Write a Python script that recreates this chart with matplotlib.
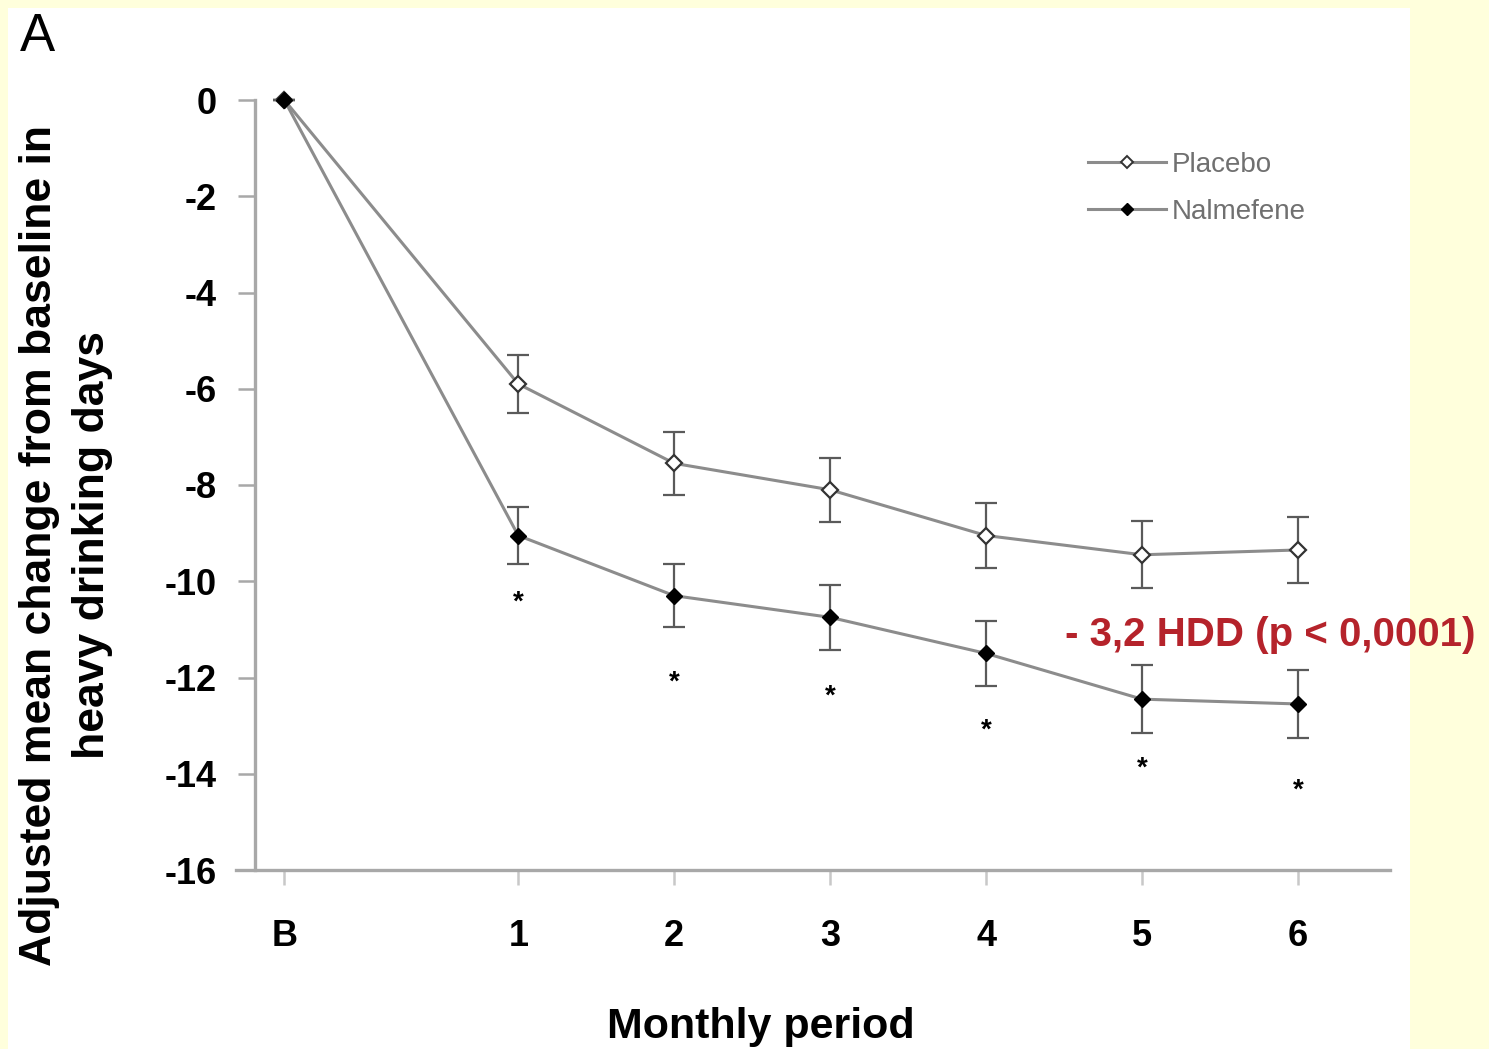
import numpy as np
import matplotlib
matplotlib.use('Agg')
import matplotlib.pyplot as plt
from matplotlib.patches import Rectangle
from matplotlib.lines import Line2D

plt.rcParams['font.family'] = ['Liberation Sans', 'DejaVu Sans']

# data
periods = ['B', '1', '2', '3', '4', '5', '6']
placebo = [0, -5.9, -7.55, -8.1, -9.05, -9.45, -9.35]
placebo_err = [0, 0.6, 0.65, 0.66, 0.67, 0.7, 0.68]
nalmefene = [0, -9.05, -10.3, -10.75, -11.5, -12.45, -12.55]
nalmefene_err = [0, 0.6, 0.65, 0.68, 0.68, 0.7, 0.7]
star_y = [-10.45, -12.1, -12.4, -13.1, -13.9, -14.35]
yticks = [0, -2, -4, -6, -8, -10, -12, -14, -16]

# baseline sits a bit apart from the monthly periods
x = np.array([-0.5] + list(range(1, len(periods))), dtype=float)

fig = plt.figure(figsize=(14.89, 10.49), dpi=100, facecolor='#FFFFDC')
fig.patches.append(Rectangle((8 / 1489, 0), (1410 - 8) / 1489, 1041 / 1049,
                             transform=fig.transFigure, facecolor='white',
                             edgecolor='none', zorder=-5))

ax = fig.add_axes([236 / 1489, 1 - 870 / 1049, (1390 - 236) / 1489, (870 - 100) / 1049])
ax.set_facecolor('none')

line_col = '#8c8c8c'
err_col = '#5a5a5a'

ax.errorbar(x, placebo, yerr=placebo_err, color=line_col, lw=2.2,
            ecolor=err_col, elinewidth=1.6, capsize=8, capthick=1.6,
            marker='D', ms=8, mfc='white', mec='#333333', mew=1.6,
            clip_on=False, zorder=3)
ax.errorbar(x, nalmefene, yerr=nalmefene_err, color=line_col, lw=2.2,
            ecolor=err_col, elinewidth=1.6, capsize=8, capthick=1.6,
            marker='D', ms=8, mfc='black', mec='black',
            clip_on=False, zorder=4)

for xi, yi in zip(x[1:], star_y):
    ax.text(xi, yi, '*', ha='center', va='center', fontsize=20,
            fontweight='bold', color='black')

ax.text(1065 / 1489, 1 - 635 / 1049, '- 3,2 HDD (p < 0,0001)',
        transform=fig.transFigure, ha='left', va='center', fontsize=29,
        fontweight='bold', color='#B5232B')

ax.set_xlim(-0.81, 6.59)
ax.set_ylim(-16, 0)
ax.spines['left'].set_position(('data', -0.686))
for s in ['top', 'right']:
    ax.spines[s].set_visible(False)
for s in ['left', 'bottom']:
    ax.spines[s].set_color('#a8a8a8')
    ax.spines[s].set_linewidth(2.4)

ax.set_yticks(yticks)
ax.set_yticklabels([str(v) for v in yticks], fontsize=26, fontweight='bold')
ax.tick_params(axis='y', length=12, width=1.8, color='#a8a8a8', pad=16)
ax.set_xticks(x)
ax.set_xticklabels(periods, fontsize=26, fontweight='bold')
ax.tick_params(axis='x', length=11, width=1.8, color='#c8c8c8', pad=24)

handles = [
    Line2D([], [], color=line_col, lw=2.2, marker='D', ms=6,
           mfc='white', mec='#333333', mew=1.4),
    Line2D([], [], color=line_col, lw=2.2, marker='D', ms=6,
           mfc='black', mec='black'),
]
leg = ax.legend(handles, ['Placebo', 'Nalmefene'], loc='upper left',
                bbox_to_anchor=(1077 / 1489, 1 - 141 / 1049),
                bbox_transform=fig.transFigure, frameon=False, fontsize=20,
                handlelength=2.8, handletextpad=0.2, labelspacing=0.75,
                borderaxespad=0)
for t in leg.get_texts():
    t.set_color('#707070')

fig.text(66 / 1489, 1 - 545 / 1049,
         'Adjusted mean change from baseline in\nheavy drinking days',
         rotation=90, ha='center', va='center', fontsize=32,
         fontweight='bold', linespacing=1.4)
fig.text(761 / 1489, 1 - 1027 / 1049, 'Monthly period', ha='center',
         va='center', fontsize=31, fontweight='bold')
fig.text(20 / 1489, 1 - 37 / 1049, 'A', ha='left', va='center', fontsize=38)

fig.savefig('out.png', dpi=100, facecolor=fig.get_facecolor())
